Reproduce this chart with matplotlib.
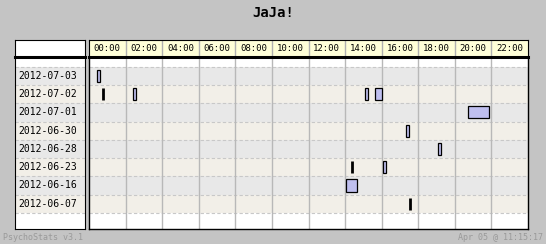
import matplotlib.pyplot as plt
from matplotlib.patches import Rectangle

# data
dates = ['2012-07-03', '2012-07-02', '2012-07-01', '2012-06-30',
         '2012-06-28', '2012-06-23', '2012-06-16', '2012-06-07']
# sessions per day: (start hour, end hour)
sessions = [
    [(0.44, 0.60)],
    [(0.78, 0.78), (2.40, 2.56), (15.10, 15.25), (15.62, 16.03)],
    [(20.72, 21.85)],
    [(17.31, 17.48)],
    [(19.10, 19.27)],
    [(14.40, 14.40), (16.07, 16.26)],
    [(14.03, 14.67)],
    [(17.57, 17.57)],
]
hour_labels = ['00:00', '02:00', '04:00', '06:00', '08:00', '10:00',
               '12:00', '14:00', '16:00', '18:00', '20:00', '22:00']
title = 'JaJa!'

W, H = 546, 244
bg = '#c4c4c4'
row_colors = ['#e8e8e8', '#f2efe8']
mono = 'DejaVu Sans Mono'

fig = plt.figure(figsize=(W / 100, H / 100), dpi=100, facecolor=bg)


def px_axes(x0, y0, x1, y1):
    return fig.add_axes([x0 / W, 1 - y1 / H, (x1 - x0) / W, (y1 - y0) / H])


top, bottom = -1.03, 8.38

# time area
ax = px_axes(89, 57, 528, 229)
ax.set_xlim(0, 24)
ax.set_ylim(bottom, top)
ax.set_facecolor('white')
for i in range(len(dates)):
    ax.axhspan(i - 0.5, i + 0.5, color=row_colors[i % 2], lw=0, zorder=0)
    ax.axhline(i - 0.5, color='#c8c8c8', lw=0.8, ls=(0, (3, 2)), zorder=1)
ax.axhline(len(dates) - 0.5, color='#c8c8c8', lw=0.8, ls=(0, (3, 2)), zorder=1)
for h in range(2, 24, 2):
    ax.axvline(h, color='#b8b8b8', lw=1, zorder=1)
for i, day in enumerate(sessions):
    for s, e in day:
        if e - s < 0.05:
            ax.plot([s, s], [i - 0.33, i + 0.33], color='black', lw=2,
                    solid_capstyle='butt', zorder=3)
        else:
            ax.add_patch(Rectangle((s, i - 0.33), e - s, 0.66, facecolor='#bfbfef',
                                   edgecolor='black', lw=0.9, zorder=3))
ax.set_xticks([])
ax.set_yticks([])
for sp in ax.spines.values():
    sp.set_linewidth(1)

# date column
axd = px_axes(15, 57, 85, 229)
axd.set_xlim(0, 1)
axd.set_ylim(bottom, top)
axd.set_facecolor('white')
for i, d in enumerate(dates):
    axd.axhspan(i - 0.5, i + 0.5, color=row_colors[i % 2], lw=0, zorder=0)
    axd.axhline(i - 0.5, color='#c8c8c8', lw=0.8, ls=(0, (3, 2)), zorder=1)
    axd.text(0.05, i, d, family=mono, fontsize=7, va='center', ha='left')
axd.axhline(len(dates) - 0.5, color='#c8c8c8', lw=0.8, ls=(0, (3, 2)), zorder=1)
axd.set_xticks([])
axd.set_yticks([])

# header
axh = px_axes(89, 40, 528, 57)
axh.set_xlim(0, 24)
axh.set_ylim(0, 1)
axh.set_facecolor('#ffffd8')
for k, lab in enumerate(hour_labels):
    axh.text(2 * k + 1, 0.5, lab, family=mono, fontsize=6.5, ha='center', va='center')
    if k:
        axh.axvline(2 * k, color='#b0b0b0', lw=1)
axh.set_xticks([])
axh.set_yticks([])
axh.spines['bottom'].set_linewidth(2.2)

axhd = px_axes(15, 40, 85, 57)
axhd.set_facecolor('white')
axhd.set_xticks([])
axhd.set_yticks([])
axhd.spines['bottom'].set_linewidth(2.2)

fig.text(0.5, 1 - 13 / H, title, family=mono, fontweight='bold', fontsize=10,
         ha='center', va='center')
fig.text(3 / W, 1 - 238 / H, 'PsychoStats v3.1', family=mono, fontsize=6,
         color='#9a9a9a', ha='left', va='center')
fig.text(543 / W, 1 - 238 / H, 'Apr 05 @ 11:15:17', family=mono, fontsize=6,
         color='#9a9a9a', ha='right', va='center')

fig.savefig('out.png', dpi=100, facecolor=bg)
